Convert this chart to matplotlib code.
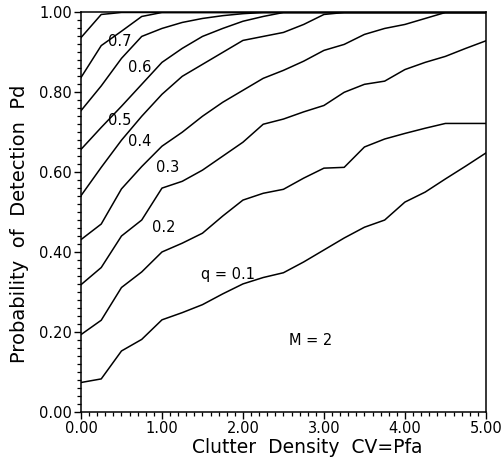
import matplotlib
matplotlib.use("Agg")
import matplotlib.pyplot as plt
from matplotlib.ticker import MultipleLocator, FormatStrFormatter

# Clutter density CV=Pfa grid
cv = [0.0, 0.25, 0.5, 0.75, 1.0, 1.25, 1.5, 1.75, 2.0, 2.25, 2.5,
      2.75, 3.0, 3.25, 3.5, 3.75, 4.0, 4.25, 4.5, 4.75, 5.0]

# Probability of detection Pd for each q
pd_q01 = [0.073, 0.082, 0.152, 0.181, 0.230, 0.248, 0.268, 0.295, 0.320, 0.336, 0.348,
          0.375, 0.405, 0.435, 0.462, 0.480, 0.525, 0.550, 0.583, 0.615, 0.648]
pd_q02 = [0.193, 0.229, 0.311, 0.350, 0.400, 0.422, 0.447, 0.490, 0.530, 0.547, 0.557,
          0.585, 0.610, 0.612, 0.663, 0.683, 0.697, 0.710, 0.722, 0.722, 0.722]
pd_q03 = [0.318, 0.361, 0.440, 0.480, 0.560, 0.577, 0.605, 0.640, 0.675, 0.720, 0.733,
          0.751, 0.767, 0.800, 0.820, 0.828, 0.857, 0.875, 0.890, 0.910, 0.929]
pd_q04 = [0.431, 0.470, 0.558, 0.614, 0.665, 0.700, 0.740, 0.775, 0.805, 0.835, 0.855,
          0.878, 0.905, 0.920, 0.945, 0.960, 0.970, 0.985, 1.0, 1.0, 1.0]
pd_q05 = [0.541, 0.612, 0.680, 0.740, 0.795, 0.840, 0.870, 0.900, 0.930, 0.940, 0.950,
          0.970, 0.995, 1.0, 1.0, 1.0, 1.0, 1.0, 1.0, 1.0, 1.0]
pd_q06 = [0.657, 0.712, 0.765, 0.820, 0.875, 0.910, 0.940, 0.960, 0.978, 0.990, 1.0,
          1.0, 1.0, 1.0, 1.0, 1.0, 1.0, 1.0, 1.0, 1.0, 1.0]
pd_q07 = [0.754, 0.816, 0.885, 0.940, 0.960, 0.975, 0.985, 0.992, 0.997, 1.0, 1.0,
          1.0, 1.0, 1.0, 1.0, 1.0, 1.0, 1.0, 1.0, 1.0, 1.0]
pd_q08 = [0.837, 0.917, 0.953, 0.990, 1.0, 1.0, 1.0, 1.0, 1.0, 1.0, 1.0,
          1.0, 1.0, 1.0, 1.0, 1.0, 1.0, 1.0, 1.0, 1.0, 1.0]
pd_q09 = [0.937, 0.995, 1.0, 1.0, 1.0, 1.0, 1.0, 1.0, 1.0, 1.0, 1.0,
          1.0, 1.0, 1.0, 1.0, 1.0, 1.0, 1.0, 1.0, 1.0, 1.0]

series = [pd_q01, pd_q02, pd_q03, pd_q04, pd_q05, pd_q06, pd_q07, pd_q08, pd_q09]

# curve labels: text and anchor (data coords)
label_texts = ["q = 0.1", "0.2", "0.3", "0.4", "0.5", "0.6", "0.7"]
label_x = [1.82, 1.025, 1.074, 0.72, 0.473, 0.728, 0.48]
label_y = [0.343, 0.461, 0.611, 0.678, 0.729, 0.861, 0.928]

fig = plt.figure(figsize=(5.03, 4.62), dpi=100)
ax = fig.add_axes([0.161, 0.109, 0.805, 0.864])

for s in series:
    ax.plot(cv, s, color="black", lw=1.1, clip_on=True)

for t, x, y in zip(label_texts, label_x, label_y):
    ax.text(x, y, t, ha="center", va="center", fontsize=10.5, color="black")

ax.text(2.84, 0.178, "M = 2", ha="center", va="center", fontsize=10.5, color="black")

ax.set_xlim(0, 5)
ax.set_ylim(0, 1)
ax.xaxis.set_major_locator(MultipleLocator(1.0))
ax.xaxis.set_minor_locator(MultipleLocator(0.1))
ax.yaxis.set_major_locator(MultipleLocator(0.2))
ax.yaxis.set_minor_locator(MultipleLocator(0.02))
ax.xaxis.set_major_formatter(FormatStrFormatter("%.2f"))
ax.yaxis.set_major_formatter(FormatStrFormatter("%.2f"))
ax.tick_params(which="major", direction="out", length=5, width=1.0, labelsize=10.5, pad=1.5)
ax.tick_params(which="minor", direction="out", length=3, width=0.9)
for sp in ax.spines.values():
    sp.set_linewidth(1.1)

ax.set_xlabel("Clutter  Density  CV=Pfa", fontsize=13.5)
ax.set_ylabel("Probability  of  Detection  Pd", fontsize=14)
ax.xaxis.set_label_coords(0.56, -0.066)
ax.yaxis.set_label_coords(-0.128, 0.47)

fig.savefig("out.png", dpi=100, facecolor="white")
